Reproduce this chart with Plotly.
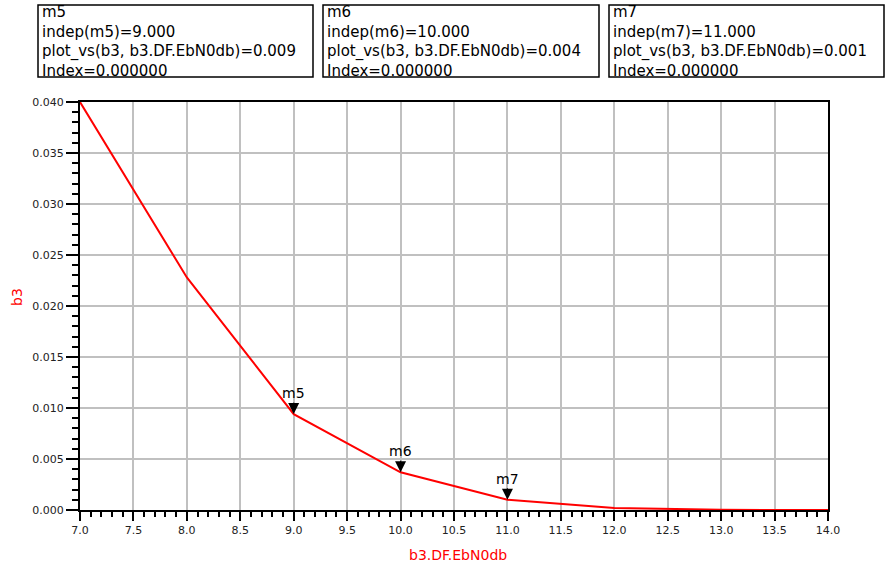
import plotly.graph_objects as go

# ---- data ----
ebn0_db = [7.0, 8.0, 9.0, 10.0, 11.0, 12.0, 13.0, 14.0]
b3_vals = [0.0400, 0.0228, 0.0094, 0.0037, 0.0010, 0.0002, 0.00002, 0.0]

marker_names = ["m5", "m6", "m7"]
marker_x = [9.0, 10.0, 11.0]
marker_y = [0.0094, 0.0037, 0.0010]
marker_readout = ["0.009", "0.004", "0.001"]

W, H = 886, 567
L, R, T, B = 80, 58, 102, 57
PW, PH = W - L - R, H - T - B

def px_x(px):
    return (px - L) / PW

def px_y(py):
    return (H - B - py) / PH

FONT = "DejaVu Sans"

fig = go.Figure()
fig.add_trace(go.Scatter(
    x=ebn0_db, y=b3_vals, mode="lines",
    line=dict(color="#ff0000", width=2), hoverinfo="skip", showlegend=False,
))

annotations = []
shapes = []

# marker triangles + labels
for name, mx, my in zip(marker_names, marker_x, marker_y):
    annotations.append(dict(
        x=mx, y=my, xref="x", yref="y", text=name,
        showarrow=True, arrowhead=2, arrowsize=2.2, arrowwidth=1,
        arrowcolor="black", ax=0, ay=-21,
        font=dict(family=FONT, size=14, color="black"),
    ))

# marker readout boxes
box_left = [38, 323, 609]
box_right = [313, 599, 884]
for name, mx, rv, bl, br in zip(marker_names, marker_x, marker_readout, box_left, box_right):
    shapes.append(dict(
        type="rect", xref="paper", yref="paper",
        x0=px_x(bl), x1=px_x(br), y0=px_y(77), y1=px_y(5),
        line=dict(color="black", width=1.5), fillcolor="white", layer="below",
    ))
    lines = [name, f"indep({name})={mx:.3f}",
             f"plot_vs(b3, b3.DF.EbN0db)={rv}", "Index=0.000000"]
    annotations.append(dict(
        x=px_x(bl + 2), y=px_y(41.5), xref="paper", yref="paper",
        xanchor="left", yanchor="middle", align="left",
        text="<br>".join(lines), showarrow=False,
        font=dict(family=FONT, size=15, color="black"),
    ))

# axis titles
annotations.append(dict(
    x=0.5, y=0, xref="paper", yref="paper", text="b3.DF.EbN0db",
    showarrow=False, xanchor="center", yanchor="middle", yshift=-45, xshift=4,
    font=dict(family=FONT, size=14, color="#ff0000"),
))
annotations.append(dict(
    x=0, y=0.5, xref="paper", yref="paper", text="b3", textangle=-90,
    showarrow=False, xanchor="center", yanchor="middle", xshift=-63, yshift=9,
    font=dict(family=FONT, size=14, color="#ff0000"),
))

axis_common = dict(
    showline=True, linecolor="black", linewidth=2, mirror=True,
    showgrid=True, gridcolor="#c0c0c0", gridwidth=1.5,
    ticks="outside", tickcolor="black", tickwidth=2,
    tickfont=dict(family=FONT, size=11, color="#222222"),
    zeroline=False, layer="below traces",
)

fig.update_xaxes(
    range=[7.0, 14.0], dtick=0.5, tick0=7.0, tickformat=".1f", ticklen=9,
    minor=dict(dtick=0.1, tick0=7.0, ticks="outside", ticklen=5, tickwidth=1.5,
               tickcolor="black", showgrid=False),
    **axis_common,
)
fig.update_yaxes(
    range=[0.0, 0.040], dtick=0.005, tick0=0.0, tickformat=".3f", ticklen=12,
    minor=dict(dtick=0.001, tick0=0.0, ticks="outside", ticklen=6, tickwidth=1.5,
               tickcolor="black", showgrid=False),
    **axis_common,
)

fig.update_layout(
    width=W, height=H, autosize=False,
    margin=dict(l=L, r=R, t=T, b=B, pad=0),
    plot_bgcolor="white", paper_bgcolor="white",
    annotations=annotations, shapes=shapes,
    showlegend=False,
)

fig.write_html(
    "out.html",
    config={"displayModeBar": False},
    post_script="document.body.style.margin='0px';document.body.style.padding='0px';",
)
